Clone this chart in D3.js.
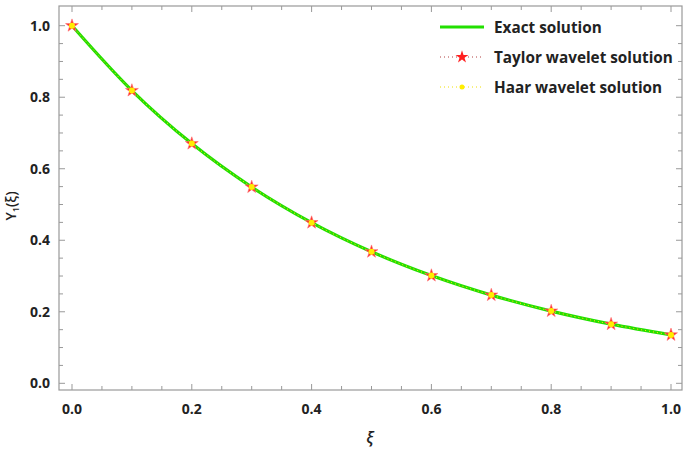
<!DOCTYPE html>
<html><head><meta charset="utf-8">
<script src="https://cdn.jsdelivr.net/npm/d3@7"></script>
<style>body{margin:0;background:#fff}text{font-family:"Open Sans",sans-serif;font-weight:700;fill:#222}</style>
</head><body>
<svg id="c" width="686" height="450"></svg>
<script>
const xi = [0.0,0.1,0.2,0.3,0.4,0.5,0.6,0.7,0.8,0.9,1.0];
const exact = [1.0,0.8187,0.6703,0.5488,0.4493,0.3679,0.3012,0.2466,0.2019,0.1653,0.1353];
const taylor = [1.0,0.8187,0.6703,0.5488,0.4493,0.3679,0.3012,0.2466,0.2019,0.1653,0.1353];
const haar = [1.0,0.8187,0.6703,0.5488,0.4493,0.3679,0.3012,0.2466,0.2019,0.1653,0.1353];
const xTicks = [0,0.2,0.4,0.6,0.8,1.0];
const yTicks = [0,0.2,0.4,0.6,0.8,1.0];
const legendLabels = ["Exact solution","Taylor wavelet solution","Haar wavelet solution"];

const svg = d3.select("#c");
const L=59,R=682,T=6,B=390;
const x = d3.scaleLinear().domain([0,1]).range([72,671]);
const y = d3.scaleLinear().domain([0,1]).range([383.3,25.7]);
const gray="#999";
const minor = d3.range(0,1.0001,0.05).map(v=>+v.toFixed(2));
const isMajor = v => Math.abs(Math.round(v*5)-v*5)<1e-6;
svg.append("rect").attr("x",L).attr("y",T).attr("width",R-L).attr("height",B-T).attr("fill","none").attr("stroke",gray).attr("stroke-width",1.2);
const tk = svg.append("g").attr("stroke",gray).attr("stroke-width",1);
minor.forEach(v=>{
  const len = isMajor(v)?6:4;
  tk.append("line").attr("x1",x(v)).attr("x2",x(v)).attr("y1",B).attr("y2",B-len);
  tk.append("line").attr("x1",x(v)).attr("x2",x(v)).attr("y1",T).attr("y2",T+len);
  tk.append("line").attr("y1",y(v)).attr("y2",y(v)).attr("x1",L).attr("x2",L+len);
  tk.append("line").attr("y1",y(v)).attr("y2",y(v)).attr("x1",R).attr("x2",R-len);
});
xTicks.forEach(v=>svg.append("text").attr("x",x(v)).attr("y",414).attr("text-anchor","middle").attr("font-size",14).text(v.toFixed(1)));
yTicks.forEach(v=>svg.append("text").attr("x",50).attr("y",y(v)+5).attr("text-anchor","end").attr("font-size",14).text(v.toFixed(1)));
svg.append("text").attr("x",370).attr("y",443).attr("text-anchor","middle").attr("font-size",16).attr("font-style","italic").style("font-weight",600).text("ξ");
svg.append("text").attr("transform","translate(16,"+206+") rotate(-90)").attr("text-anchor","middle").attr("font-size",14).style("font-weight",600).html('Y<tspan font-size="9" dy="3">1</tspan><tspan dy="-3">(ξ)</tspan>');

const line = d3.line().x((d,i)=>x(xi[i])).y(d=>y(d)).curve(d3.curveMonotoneX);
svg.append("path").datum(exact).attr("d",line).attr("fill","none").attr("stroke","#22e000").attr("stroke-width",3.2);
svg.append("path").datum(taylor).attr("d",line).attr("fill","none").attr("stroke","#c03030").attr("stroke-width",1).attr("stroke-dasharray","1,3").attr("opacity",0.5);
svg.append("path").datum(haar).attr("d",line).attr("fill","none").attr("stroke","#ffff00").attr("stroke-width",1).attr("stroke-dasharray","1,3");
const star = d3.symbol().type(d3.symbolStar).size(52);
svg.selectAll(".st").data(taylor).join("path").attr("transform",(d,i)=>`translate(${x(xi[i])},${y(d)})`).attr("d",star).attr("fill","#ff2828").attr("stroke","#ff7070").attr("stroke-width",0.6);
svg.selectAll(".hr").data(haar).join("circle").attr("cx",(d,i)=>x(xi[i])).attr("cy",d=>y(d)).attr("r",3).attr("fill","#ffee00");

const ly=[27,57,87];
svg.append("line").attr("x1",440).attr("x2",484).attr("y1",ly[0]).attr("y2",ly[0]).attr("stroke","#22e000").attr("stroke-width",3.2);
svg.append("line").attr("x1",440).attr("x2",484).attr("y1",ly[1]).attr("y2",ly[1]).attr("stroke","#b04040").attr("stroke-width",1).attr("stroke-dasharray","1,3");
svg.append("path").attr("transform",`translate(462,${ly[1]})`).attr("d",star).attr("fill","#ff2020");
svg.append("line").attr("x1",440).attr("x2",484).attr("y1",ly[2]).attr("y2",ly[2]).attr("stroke","#f0e000").attr("stroke-width",1).attr("stroke-dasharray","1,3");
svg.append("circle").attr("cx",462).attr("cy",ly[2]).attr("r",2.5).attr("fill","#ffee00");
legendLabels.forEach((t,i)=>svg.append("text").attr("x",494).attr("y",ly[i]+5.5).attr("font-size",15.3).text(t));
</script>
</body></html>
